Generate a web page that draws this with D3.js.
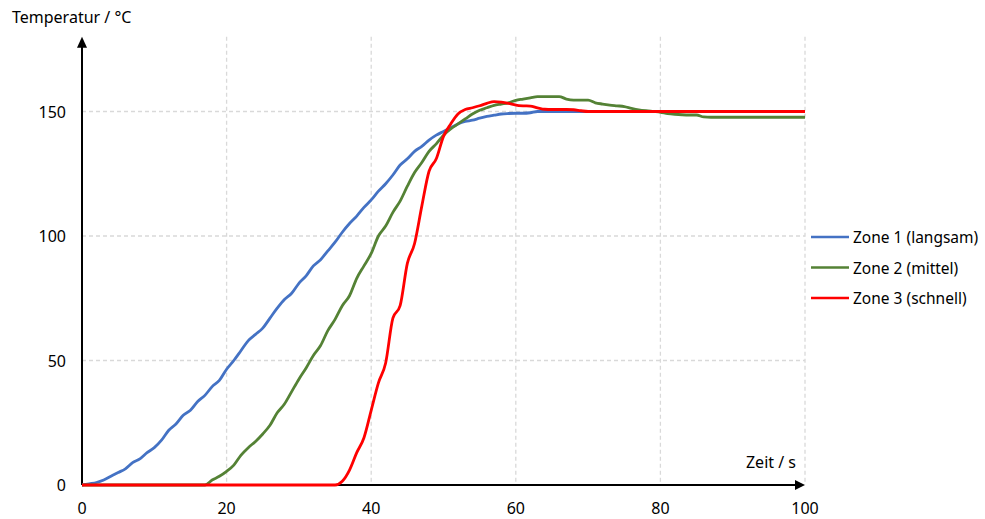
<!DOCTYPE html>
<html><head><meta charset="utf-8">
<script src="https://cdn.jsdelivr.net/npm/d3@7"></script>
<style>
body{margin:0;background:#fff;}
text{font-family:"Noto Sans","Open Sans",sans-serif;fill:#000;}
</style></head>
<body><svg id="c" width="985" height="519"></svg>
<script>
const time = d3.range(0, 101);
const zone1 = [0,0.5,1,2,3.5,5,6.5,9,10.5,13,15,18,22,24.5,28,30,33.5,36,39.5,42,46.5,50,54,58,60.5,63,67,71,74.5,77,81,84,88,90.5,94,97.5,101.5,105,108,111.5,114.5,118,121,124.5,128.5,131,134,136,138.5,140.5,142,143.5,145,146,146.5,147.3,148,148.5,149,149.2,149.3,149.3,149.5,150,150,150,150,150,150,150,150,150,150,150,150,150,150,150,150,150,150,150,150,150,150,150,150,150,150,150,150,150,150,150,150,150,150,150,150,150,150];
const zone2 = [0,0,0,0,0,0,0,0,0,0,0,0,0,0,0,0,0,0,2,3.5,5.5,8,12,15,17.5,20.5,24,29,32.5,37.5,42.5,47,52,56,62,66.5,72,76,83,88,93,100,104,109.5,114,120,125.5,129.5,134,137,140.5,143,145,147,149,150.5,151.5,152.5,153,153.5,154.5,155,155.5,156,156,156,156,155,154.6,154.6,154.6,153.5,153,152.6,152.3,152,151.3,150.7,150.3,150,149.7,149.2,148.9,148.7,148.6,148.6,147.8,147.7,147.7,147.7,147.7,147.7,147.7,147.7,147.7,147.7,147.7,147.7,147.7,147.7,147.7];
const zone3 = [0,0,0,0,0,0,0,0,0,0,0,0,0,0,0,0,0,0,0,0,0,0,0,0,0,0,0,0,0,0,0,0,0,0,0,0,1.5,6,13,19,30,41,49,67,72,89,97,112,126,131,140,145,149,150.8,151.5,152.3,153.3,154,153.8,153.3,152.6,152.3,152.2,151.5,150.9,150.8,150.8,150.8,150.7,150.3,150,150,150,150,150,150,150,150,150,150,150,150,150,150,150,150,150,150,150,150,150,150,150,150,150,150,150,150,150,150,150];
const seriesNames = ["Zone 1 (langsam)","Zone 2 (mittel)","Zone 3 (schnell)"];
const seriesColors = ["#4472C4","#548235","#FF0000"];
const xTicks = [0,20,40,60,80,100];
const yTicks = [0,50,100,150];
const xTitle = "Zeit / s";
const yTitle = "Temperatur / °C";

const svg = d3.select("#c");
const x = d3.scaleLinear().domain([0,100]).range([82,805]);
const y = d3.scaleLinear().domain([0,180]).range([485,36.8]);

// grid
const g = svg.append("g");
g.selectAll(".vg").data(xTicks.filter(d=>d>0)).enter().append("line")
 .attr("x1",d=>x(d)).attr("x2",d=>x(d)).attr("y1",y(180)).attr("y2",y(0))
 .attr("stroke","#d9d9d9").attr("stroke-width",1.3).attr("stroke-dasharray","4,3");
g.selectAll(".hg").data(yTicks.filter(d=>d>0)).enter().append("line")
 .attr("x1",x(0)).attr("x2",x(100)).attr("y1",d=>y(d)).attr("y2",d=>y(d))
 .attr("stroke","#d9d9d9").attr("stroke-width",1.3).attr("stroke-dasharray","4,3");

// axes
svg.append("line").attr("x1",x(0)).attr("x2",x(100)-6).attr("y1",y(0)).attr("y2",y(0)).attr("stroke","#000").attr("stroke-width",2);
svg.append("path").attr("d",`M${x(100)},${y(0)} L${x(100)-10},${y(0)-5} L${x(100)-10},${y(0)+5} Z`).attr("fill","#000");
svg.append("line").attr("x1",x(0)).attr("x2",x(0)).attr("y1",y(0)).attr("y2",y(180)+6).attr("stroke","#000").attr("stroke-width",2);
svg.append("path").attr("d",`M${x(0)},${y(180)} L${x(0)-5},${y(180)+11} L${x(0)+5},${y(180)+11} Z`).attr("fill","#000");

// tick labels
svg.selectAll(".xt").data(xTicks).enter().append("text")
 .attr("x",d=>x(d)).attr("y",514).attr("text-anchor","middle").attr("font-size",16).text(d=>d);
svg.selectAll(".yt").data(yTicks).enter().append("text")
 .attr("x",66).attr("y",d=>y(d)+6).attr("text-anchor","end").attr("font-size",16).text(d=>d);

svg.append("text").attr("x",12).attr("y",23).attr("font-size",16).text(yTitle);
svg.append("text").attr("x",796).attr("y",468).attr("text-anchor","end").attr("font-size",16).text(xTitle);

// lines
const line = d3.line().x((d,i)=>x(time[i])).y(d=>y(d)).curve(d3.curveMonotoneX);
[zone1,zone2,zone3].forEach((s,i)=>{
  svg.append("path").datum(s).attr("d",line).attr("fill","none")
   .attr("stroke",seriesColors[i]).attr("stroke-width",2.8).attr("stroke-linejoin","round");
});

// legend
const lg = svg.append("g");
seriesNames.forEach((n,i)=>{
  const yy = 237 + i*30.5;
  lg.append("line").attr("x1",811).attr("x2",849).attr("y1",yy).attr("y2",yy).attr("stroke",seriesColors[i]).attr("stroke-width",2.6);
  lg.append("text").attr("x",853).attr("y",yy+6).attr("font-size",15.5).text(n);
});
</script></body></html>
